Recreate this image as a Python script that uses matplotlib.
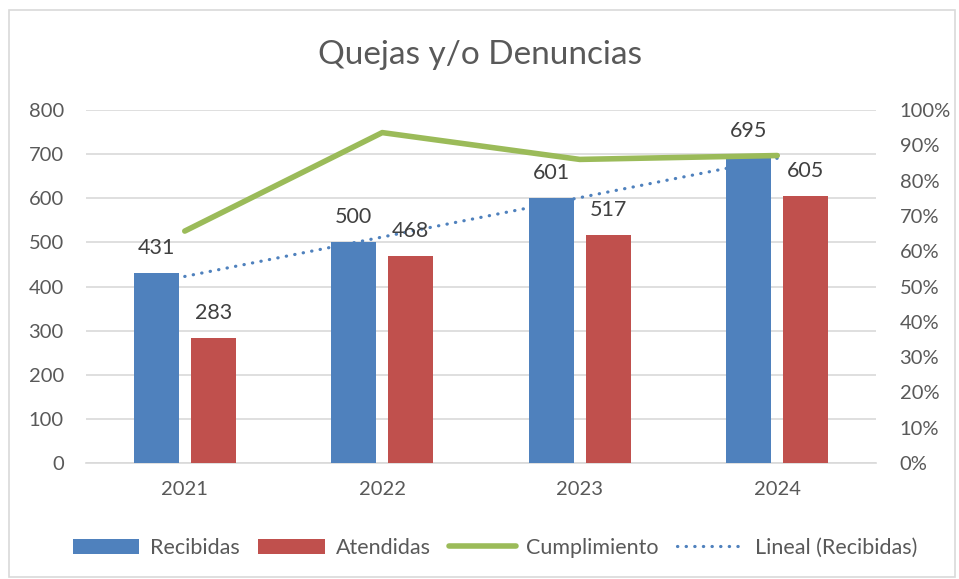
import matplotlib
matplotlib.use("Agg")
import matplotlib.pyplot as plt
import numpy as np
from matplotlib.lines import Line2D
from matplotlib.patches import Patch, Rectangle

years = ["2021", "2022", "2023", "2024"]
recibidas = [431, 500, 601, 695]
atendidas = [283, 468, 517, 605]
cumplimiento = [0.657, 0.936, 0.860, 0.871]
left_ticks = [0, 100, 200, 300, 400, 500, 600, 700, 800]
right_ticks = [0, 0.1, 0.2, 0.3, 0.4, 0.5, 0.6, 0.7, 0.8, 0.9, 1.0]

BLUE = "#4F81BD"
RED = "#C0504D"
GREEN = "#9BBB59"
TXT = "#595959"
GRID = "#D9D9D9"
FONT = "Lato"
DOT = (0, (0.1, 2.6))

plt.rcParams["font.family"] = [FONT, "DejaVu Sans"]

fig = plt.figure(figsize=(9.59, 5.79), dpi=100)
fig.patches.append(Rectangle((9 / 959, 2 / 579), 946 / 959, 567 / 579, transform=fig.transFigure,
                             fill=False, edgecolor=GRID, linewidth=1.2))
ax = fig.add_axes([86 / 959, 1 - 463 / 579, 790 / 959, 353 / 579])
ax2 = ax.twinx()

x = np.arange(len(years))
w = 0.228
off = 0.144
ax.bar(x - off, recibidas, w, color=BLUE, zorder=3)
ax.bar(x + off, atendidas, w, color=RED, zorder=3)

for xs, vals in ((x - off, recibidas), (x + off, atendidas)):
    for xi, v in zip(xs, vals):
        ax.annotate(f"{v}", (xi, v), xytext=(0, 18), textcoords="offset points",
                    ha="center", va="center", fontsize=15.5, color="#404040", zorder=5)

# linear trend of Recibidas
coef = np.polyfit(x, recibidas, 1)
trend = np.polyval(coef, x)
ax.plot(x, trend, linestyle=DOT, color=BLUE, linewidth=2.3, zorder=4,
        dash_capstyle="round")

ax2.plot(x, cumplimiento, color=GREEN, linewidth=4, solid_capstyle="round", zorder=4)

ax.set_xlim(-0.5, 3.5)
ax.set_ylim(0, 800)
ax.set_yticks(left_ticks)
ax.set_yticklabels([str(t) for t in left_ticks])
ax2.set_ylim(0, 1.0)
ax2.set_yticks(right_ticks)
ax2.set_yticklabels([f"{int(round(t * 100))}%" for t in right_ticks])
ax.set_xticks(x)
ax.set_xticklabels(years)

ax.grid(axis="y", color=GRID, linewidth=1.2, zorder=0)
ax.set_axisbelow(True)
for a in (ax, ax2):
    for s in ("top", "left", "right"):
        a.spines[s].set_visible(False)
    a.spines["bottom"].set_color(GRID)
    a.spines["bottom"].set_linewidth(1.2)
    a.tick_params(length=0, labelsize=14.5, colors=TXT)
ax.tick_params(axis="y", pad=16)
ax.tick_params(axis="x", pad=13)
ax2.tick_params(axis="y", pad=17)
ax2.spines["bottom"].set_visible(False)

fig.text(0.5, 1 - 55 / 579, "Quejas y/o Denuncias", ha="center", va="center",
         fontsize=24, color=TXT)

handles = [
    Patch(facecolor=BLUE, label="Recibidas"),
    Patch(facecolor=RED, label="Atendidas"),
    Line2D([0], [0], color=GREEN, linewidth=4, solid_capstyle="round", label="Cumplimiento"),
    Line2D([0], [0], color=BLUE, linewidth=2.3, linestyle=DOT, dash_capstyle="round",
           label="Lineal (Recibidas)"),
]
fig.legend(handles=handles, loc="center", bbox_to_anchor=(0.516, 1 - 548 / 579), ncol=4,
           frameon=False, fontsize=15.5, labelcolor=TXT, handlelength=3.1, handleheight=0.7,
           columnspacing=0.85, handletextpad=0.5)

fig.savefig("out.png", dpi=100)
